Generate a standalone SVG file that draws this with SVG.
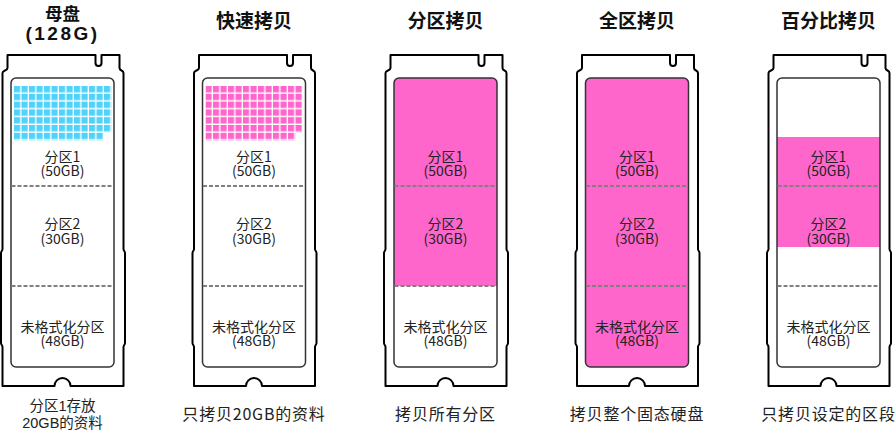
<svg xmlns="http://www.w3.org/2000/svg" xmlns:xlink="http://www.w3.org/1999/xlink" width="896" height="435" viewBox="0 0 896 435">
<style>
.outline{fill:none;stroke:#000;stroke-width:2;stroke-linejoin:round}
.inner{fill:none;stroke:#333;stroke-width:1.5}
.dash{stroke:#808080;stroke-width:2;stroke-dasharray:4 2}
.lbl{font-family:"Noto Sans CJK SC","Noto Sans",sans-serif;font-size:14px;fill:#222;text-anchor:middle}
.cap{font-family:"Noto Sans CJK SC","Noto Sans",sans-serif;font-size:16px;letter-spacing:0.8px;fill:#222;text-anchor:middle}
.cap1{font-family:"Liberation Sans","Noto Sans CJK SC",sans-serif;font-size:14.5px;fill:#222;text-anchor:middle}
.ttl{font-family:"Noto Sans CJK SC","Noto Sans",sans-serif;font-size:19px;font-weight:700;fill:#111;text-anchor:middle}
.pink{fill:#ff66cc}
</style>
<defs>
<path id="outline" d="M -55 55 H 33 V 63 A 3 3 0 0 0 39 63 V 55 H 57 V 68 C 57 71 61 70 61 73 V 249 C 61 251 62.5 251 62.5 253 V 343 C 62.5 345 61 345 61 347 V 386 H 8 A 8 8 0 0 0 -8 386 H -60 V 347 C -60 345 -61.5 345 -61.5 343 V 253 C -61.5 251 -60 251 -60 249 V 73 C -60 70 -55 71 -55 68 Z"/>
<clipPath id="innerClip" clipPathUnits="userSpaceOnUse"><rect x="-51.5" y="78" width="103" height="289" rx="5"/></clipPath>
<pattern id="gridBlue" patternUnits="userSpaceOnUse" x="-48.5" y="86" width="7.5" height="7.8"><rect width="6.2" height="6.4" fill="#4fd3fb"/></pattern>
<pattern id="gridPink" patternUnits="userSpaceOnUse" x="-48.5" y="86" width="7.5" height="7.8"><rect width="6.2" height="6.4" fill="#ff66cc"/></pattern>
<g id="body">
<rect class="inner" x="-51.5" y="78" width="103" height="289" rx="5"/>
<line class="dash" x1="-51" y1="186" x2="51" y2="186"/>
<line class="dash" x1="-51" y1="286" x2="51" y2="286"/>
<text class="lbl" x="0" y="162">分区1</text>
<text class="lbl" x="0" y="176">(50GB)</text>
<text class="lbl" x="0" y="229">分区2</text>
<text class="lbl" x="0" y="244">(30GB)</text>
<text class="lbl" x="0" y="332">未格式化分区</text>
<text class="lbl" x="0" y="346">(48GB)</text>
<use xlink:href="#outline" class="outline"/>
</g>
</defs>

<g id="card-master" transform="translate(62.5,0)">
<text class="ttl" x="0" y="19.5" style="font-size:17.5px;font-family:'Liberation Sans','Noto Sans CJK SC',sans-serif">母盘</text>
<text class="ttl" x="0" y="39.5" style="font-family:'Liberation Sans',sans-serif;letter-spacing:2.5px">(128G)</text>
<rect x="-48.5" y="86" width="97.5" height="46.8" fill="url(#gridBlue)"/>
<rect x="-48.5" y="132.8" width="90" height="7.8" fill="url(#gridBlue)"/>
<use xlink:href="#body"/>
<text class="cap1"><tspan x="0" y="411">分区1存放</tspan><tspan x="0" y="427.5">20GB的资料</tspan></text>
</g>

<g id="card-quick" transform="translate(254,0)">
<text class="ttl" x="0" y="28">快速拷贝</text>
<rect x="-48.5" y="86" width="97.5" height="46.8" fill="url(#gridPink)"/>
<rect x="-48.5" y="132.8" width="90" height="7.8" fill="url(#gridPink)"/>
<use xlink:href="#body"/>
<text class="cap" x="0" y="420">只拷贝20GB的资料</text>
</g>

<g id="card-partition" transform="translate(445.5,0)">
<text class="ttl" x="0" y="28">分区拷贝</text>
<rect class="pink" x="-52" y="77" width="104" height="209" clip-path="url(#innerClip)"/>
<use xlink:href="#body"/>
<text class="cap" x="0" y="420">拷贝所有分区</text>
</g>

<g id="card-full" transform="translate(637,0)">
<text class="ttl" x="0" y="28">全区拷贝</text>
<rect class="pink" x="-51.5" y="78" width="103" height="289" rx="5"/>
<use xlink:href="#body"/>
<text class="cap" x="0" y="420">拷贝整个固态硬盘</text>
</g>

<g id="card-percent" transform="translate(828.5,0)">
<text class="ttl" x="0" y="28">百分比拷贝</text>
<rect class="pink" x="-51.5" y="137" width="103" height="110"/>
<use xlink:href="#body"/>
<text class="cap" x="0" y="420">只拷贝设定的区段</text>
</g>

<g id="connectors"></g>
</svg>
